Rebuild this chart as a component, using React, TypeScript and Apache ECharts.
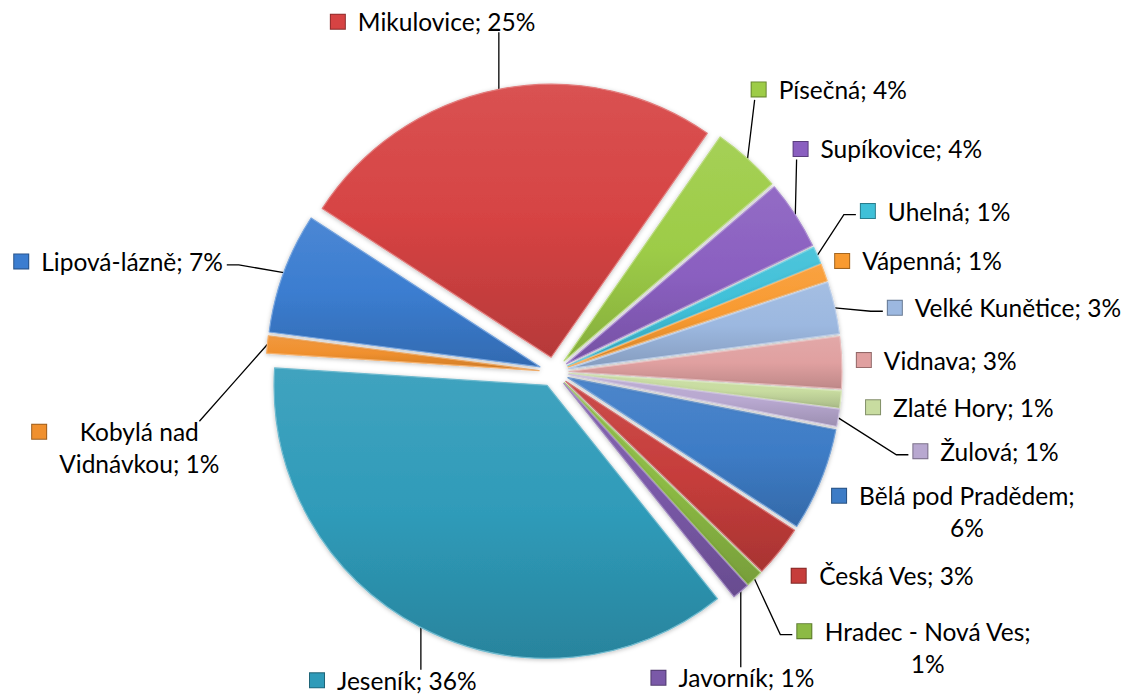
import React, { useEffect, useRef } from 'react';
import * as echarts from 'echarts';

const categories = [
  'Bělá pod Pradědem', 'Česká Ves', 'Hradec - Nová Ves', 'Javorník', 'Jeseník',
  'Kobylá nad Vidnávkou', 'Lipová-lázně', 'Mikulovice', 'Písečná', 'Supíkovice',
  'Uhelná', 'Vápenná', 'Velké Kunětice', 'Vidnava', 'Zlaté Hory', 'Žulová',
];
const shares = [6, 3, 1, 1, 36, 1, 7, 25, 4, 4, 1, 1, 3, 3, 1, 1];
const sliceColors = [
  '#3d7cc6', '#c63d3b', '#8cba44', '#7a59a8', '#2f9bb9', '#f0902e', '#3b7dd0', '#d64343',
  '#9dcc47', '#8a5fc0', '#3fc0d8', '#f89a30', '#9cb8e0', '#e0a0a0', '#c8dca0', '#b8a8d0',
];
const lineBreakAfter: Record<string, string> = {
  'Kobylá nad Vidnávkou': 'Kobylá nad ',
  'Bělá pod Pradědem': 'Bělá pod Pradědem; ',
  'Hradec - Nová Ves': 'Hradec - Nová Ves; ',
};
// leader line: none, or how it meets the label
const leaderMode = [
  'none', 'none', 'right', 'top', 'top', 'top', 'left', 'bottom',
  'bottom', 'bottom', 'right', 'none', 'right', 'none', 'none', 'right',
];
// label nudges [dx, dy] applied after the library's own label layout
const labelNudge: [number, number][] = [
  [-25, 25], [-37, 13], [-6, 40], [-118, 27], [81, 37], [-13, 105], [-27, -5], [57, -50],
  [-25, -56], [-31, -56], [14, -37], [-22, -15], [23, 3], [-15, -2], [-5, 6], [45, 22],
];

function shade(hex: string, f: number) {
  const n = parseInt(hex.slice(1), 16);
  const ch = [(n >> 16) & 255, (n >> 8) & 255, n & 255].map((c) =>
    Math.max(0, Math.min(255, Math.round(f >= 0 ? c + (255 - c) * f : c * (1 + f))))
  );
  return 'rgb(' + ch.join(',') + ')';
}

const FONT = 'Lato, "Open Sans", sans-serif';
const LINE_H = 32;

export default function App() {
  const ref = useRef<HTMLDivElement>(null);
  useEffect(() => {
    document.body.style.margin = '0';
    const chart = echarts.init(ref.current!, null, { renderer: 'svg' });
    const rich: Record<string, any> = {
      t: { fontSize: 24.5, fontFamily: FONT, color: '#000', align: 'center', lineHeight: LINE_H },
      gap: { width: 13, height: 10, align: 'left' },
      indent: { width: 27, height: 10, align: 'left' },
    };
    sliceColors.forEach((c, i) => {
      rich['m' + i] = {
        width: 14, height: 14, backgroundColor: c, borderColor: shade(c, -0.35), borderWidth: 1,
        align: 'left',
      };
    });
    const data = categories.map((name, i) => ({
      name,
      value: shares[i],
      selected: true,
      itemStyle: {
        color: new echarts.graphic.LinearGradient(0, 0, 0, 1, [
          { offset: 0, color: shade(sliceColors[i], 0.08) },
          { offset: 0.5, color: sliceColors[i] },
          { offset: 1, color: shade(sliceColors[i], -0.15) },
        ]),
        borderColor: shade(sliceColors[i], 0.3),
        borderWidth: 1.2,
        shadowBlur: 4,
        shadowColor: 'rgba(0,0,0,0.25)',
        shadowOffsetY: 1,
      },
      labelLine: { show: leaderMode[i] !== 'none' },
    }));
    chart.setOption({
      animation: false,
      backgroundColor: '#fff',
      series: [
        {
          type: 'pie',
          center: [554, 372],
          radius: 273,
          startAngle: -11,
          clockwise: true,
          selectedMode: 'multiple',
          selectedOffset: 15,
          data,
          emphasis: { disabled: true },
          label: {
            show: true,
            position: 'outside',
            formatter: (p: any) => {
              let text = `${p.name}; ${p.value}%`;
              const pre = lineBreakAfter[p.name];
              if (pre) text = text.replace(pre, pre.trimEnd() + '\n');
              const lines = text.split('\n');
              return `{m${p.dataIndex}|}{gap|}{t|${lines[0]}}` +
                (lines[1] ? `\n{indent|}{t|${lines[1]}}` : '');
            },
            rich,
          },
          labelLine: {
            show: true,
            length: 18,
            length2: 12,
            lineStyle: { color: '#000', width: 1.3 },
          },
          labelLayout: (p: any) => {
            const i = p.dataIndex;
            const [dx, dy] = labelNudge[i];
            const r = p.labelRect;
            const x = r.x + dx;
            const y = r.y + dy;
            const w = r.width;
            const h = r.height;
            const out: any = { dx, dy };
            const pts = p.labelLinePoints;
            const mode = leaderMode[i];
            if (pts && mode !== 'none') {
              const p0 = pts[0];
              let end: number[];
              let mid: number[];
              if (mode === 'top' || mode === 'bottom') {
                const ex = Math.min(Math.max(p0[0], x + 4), x + w - 20);
                const ey = mode === 'top' ? y + 2 : y + h - 2;
                end = [ex, ey];
                mid = [(p0[0] + ex) / 2, (p0[1] + ey) / 2];
              } else if (mode === 'right') {
                const ey = y + LINE_H / 2;
                end = [x - 4, ey];
                mid = [x - 16, ey];
              } else {
                const ey = y + LINE_H / 2;
                end = [x + w + 4, ey];
                mid = [x + w + 16, ey];
              }
              out.labelLinePoints = [p0, mid, end];
            }
            return out;
          },
        },
      ],
    });
    return () => chart.dispose();
  }, []);
  return <div ref={ref} style={{ width: 1128, height: 695 }} />;
}
